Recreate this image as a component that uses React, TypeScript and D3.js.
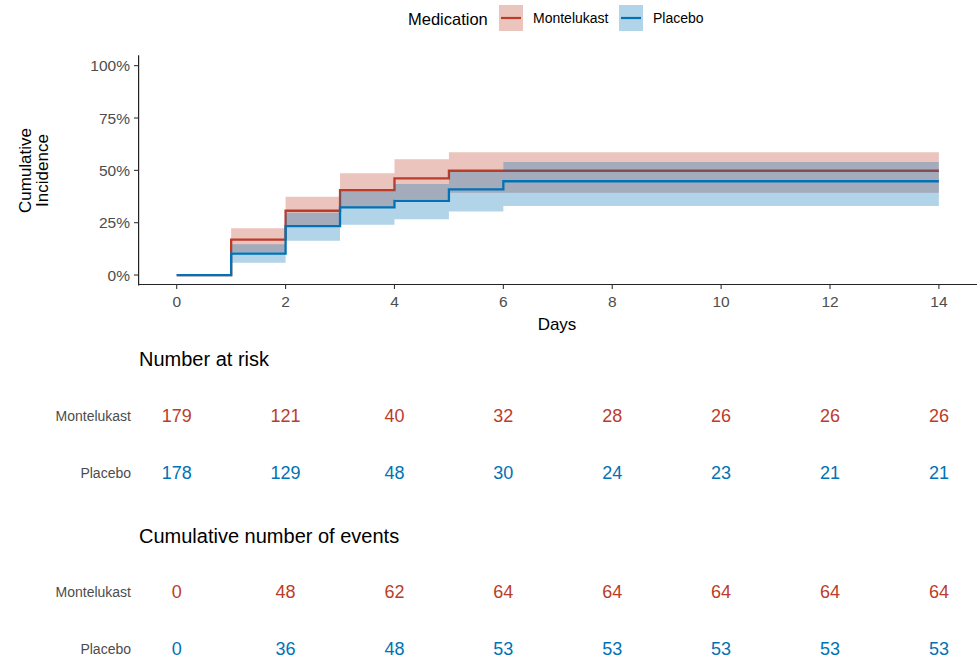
import React from "react";
import * as d3 from "d3";

const times = [0, 1, 2, 3, 4, 5, 6, 14];
const montelukastEst = [0, 16.9, 30.7, 40.6, 46.2, 49.8, 49.8, 49.8];
const montelukastLower = [0, 10.8, 23.8, 32.5, 36.2, 39.3, 39.3, 39.3];
const montelukastUpper = [0, 22.3, 37.4, 48.6, 55.3, 58.6, 58.6, 58.6];
const placeboEst = [0, 10.2, 23.4, 32.3, 35.4, 40.9, 44.8, 44.8];
const placeboLower = [0, 5.9, 16.4, 24.0, 26.6, 30.3, 33.0, 33.0];
const placeboUpper = [0, 14.7, 29.8, 40.1, 43.5, 49.5, 54.0, 54.0];

const xTicks = [0, 2, 4, 6, 8, 10, 12, 14];
const yTicks = [0, 25, 50, 75, 100];
const groups = ["Montelukast", "Placebo"];
const atRiskMontelukast = [179, 121, 40, 32, 28, 26, 26, 26];
const atRiskPlacebo = [178, 129, 48, 30, 24, 23, 21, 21];
const eventsMontelukast = [0, 48, 62, 64, 64, 64, 64, 64];
const eventsPlacebo = [0, 36, 48, 53, 53, 53, 53, 53];

const RED = "#BC3C29";
const BLUE = "#0072B5";
const FONT = "'Liberation Sans', Arial, sans-serif";

export default function App() {
  const W = 977;
  const H = 662;
  const x = d3.scaleLinear().domain([-0.7, 14.7]).range([138.6, 977]);
  const y = d3.scaleLinear().domain([-5, 105]).range([285.5, 55.2]);

  const band = (lo: number[], hi: number[]) =>
    d3
      .area<number>()
      .curve(d3.curveStepAfter)
      .x((_, i) => x(times[i]))
      .y0((_, i) => y(lo[i]))
      .y1((_, i) => y(hi[i]))(times) || "";
  const line = (v: number[]) =>
    d3
      .line<number>()
      .curve(d3.curveStepAfter)
      .x((_, i) => x(times[i]))
      .y((_, i) => y(v[i]))(times) || "";

  const series = [
    { name: "Montelukast", color: RED, est: montelukastEst, lo: montelukastLower, hi: montelukastUpper },
    { name: "Placebo", color: BLUE, est: placeboEst, lo: placeboLower, hi: placeboUpper },
  ];

  const tables = [
    { title: "Number at risk", titleY: 366, rows: [atRiskMontelukast, atRiskPlacebo], rowY: [416, 473] },
    { title: "Cumulative number of events", titleY: 543, rows: [eventsMontelukast, eventsPlacebo], rowY: [592, 649] },
  ];

  return (
    <svg width={W} height={H} style={{ position: "absolute", left: 0, top: 0, background: "#fff" }} fontFamily={FONT}>
      <rect width={W} height={H} fill="#fff" />
      {/* legend */}
      <text x={408} y={24.5} fontSize={16.5} fill="#000">Medication</text>
      {series.map((s, i) => {
        const kx = i === 0 ? 499 : 619;
        return (
          <g key={s.name}>
            <rect x={kx} y={5} width={24} height={26} fill={s.color} fillOpacity={0.3} />
            <line x1={kx + 2} x2={kx + 22} y1={18} y2={18} stroke={s.color} strokeWidth={2.2} />
            <text x={kx + 34} y={23} fontSize={14} fill="#000">{s.name}</text>
          </g>
        );
      })}

      {/* bands and lines */}
      {series.map((s) => (
        <g key={s.name}>
          <path d={band(s.lo, s.hi)} fill={s.color} fillOpacity={0.3} stroke="none" />
          <path d={line(s.est)} fill="none" stroke={s.color} strokeWidth={2.3} />
        </g>
      ))}

      {/* axes */}
      <line x1={138.6} x2={138.6} y1={55.2} y2={285.5} stroke="#222" strokeWidth={1.2} />
      <line x1={138.6} x2={977} y1={284.5} y2={284.5} stroke="#222" strokeWidth={1.2} />
      {yTicks.map((t) => (
        <g key={t}>
          <line x1={134} x2={138.6} y1={y(t)} y2={y(t)} stroke="#333" strokeWidth={1.1} />
          <text x={130} y={y(t)} dy="0.36em" textAnchor="end" fontSize={15.5} fill="#4D4D4D">{t}%</text>
        </g>
      ))}
      {xTicks.map((t) => (
        <g key={t}>
          <line x1={x(t)} x2={x(t)} y1={284.5} y2={289} stroke="#333" strokeWidth={1.1} />
          <text x={x(t)} y={307} textAnchor="middle" fontSize={15.5} fill="#4D4D4D">{t}</text>
        </g>
      ))}
      <text x={557} y={330} textAnchor="middle" fontSize={17} fill="#000">Days</text>
      <text transform={`translate(31,170.5) rotate(-90)`} textAnchor="middle" fontSize={17} fill="#000">Cumulative</text>
      <text transform={`translate(48,170.5) rotate(-90)`} textAnchor="middle" fontSize={17} fill="#000">Incidence</text>

      {/* risk tables */}
      {tables.map((tb) => (
        <g key={tb.title}>
          <text x={139} y={tb.titleY} fontSize={20} fill="#000">{tb.title}</text>
          {tb.rows.map((row, ri) => (
            <g key={ri}>
              <text x={131} y={tb.rowY[ri]} dy="0.35em" textAnchor="end" fontSize={14} fill="#4D4D4D">{groups[ri]}</text>
              {row.map((v, ci) => (
                <text key={ci} x={x(xTicks[ci])} y={tb.rowY[ri]} dy="0.35em" textAnchor="middle" fontSize={18} fill={series[ri].color}>{v}</text>
              ))}
            </g>
          ))}
        </g>
      ))}
    </svg>
  );
}
